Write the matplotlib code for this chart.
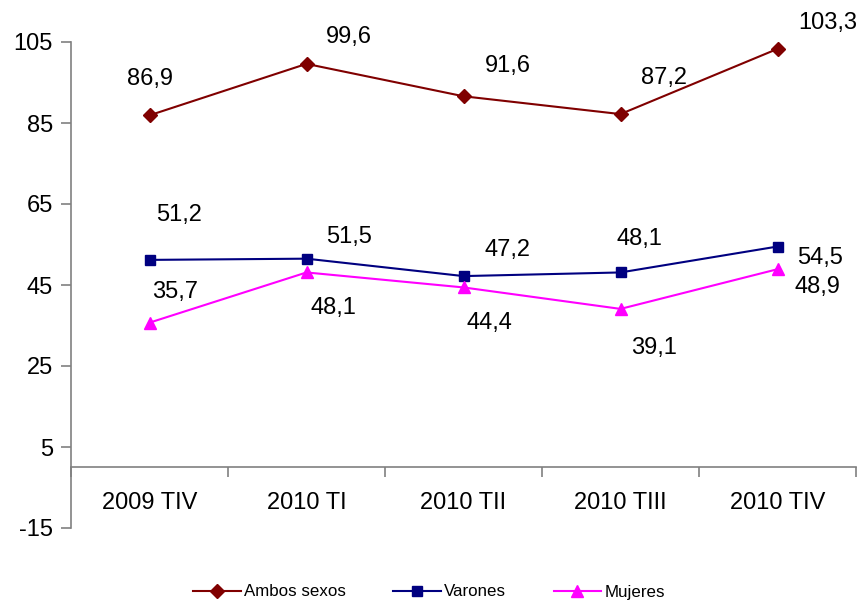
import matplotlib
matplotlib.use("Agg")
import matplotlib.pyplot as plt
from matplotlib.ticker import FixedLocator
import numpy as np

plt.rcParams['font.family'] = ['Liberation Sans', 'DejaVu Sans']

categories = ["2009 TIV", "2010 TI", "2010 TII", "2010 TIII", "2010 TIV"]
ambos = [86.9, 99.6, 91.6, 87.2, 103.3]
varones = [51.2, 51.5, 47.2, 48.1, 54.5]
mujeres = [35.7, 48.1, 44.4, 39.1, 48.9]
yticks = [-15, 5, 25, 45, 65, 85, 105]

fig = plt.figure(figsize=(8.58, 6.02), dpi=100)
ax = fig.add_axes([71/858, 1-528/602, 785/858, 486/602])

axcol = '#808080'
for s in ('top', 'right'):
    ax.spines[s].set_visible(False)
ax.spines['bottom'].set_position(('data', 0))

x = np.arange(len(categories))
ax.plot(x, ambos, color='#800000', marker='D', markersize=7, lw=1.5, label='Ambos sexos')
ax.plot(x, varones, color='#000080', marker='s', markersize=7, lw=1.5, label='Varones')
ax.plot(x, mujeres, color='#FF00FF', marker='^', markersize=9, lw=1.5, label='Mujeres')

# label offsets in pixels (dx, dy)
off_a = [(0, 36), (42, 27), (44, 30), (43, 36), (50, 26)]
off_v = [(30, 45), (43, 22), (44, 26), (19, 33), (43, -11)]
off_m = [(26, 31), (27, -36), (26, -36), (34, -39), (40, -18)]
for series, offs in ((ambos, off_a), (varones, off_v), (mujeres, off_m)):
    for i, v in enumerate(series):
        ax.annotate(f"{v:.1f}".replace('.', ','), (i, v), xytext=offs[i],
                    textcoords='offset pixels', ha='center', va='center', fontsize=17)

ax.set_xlim(-0.5, len(categories) - 0.5)
ax.set_ylim(-15, 105)
ax.set_yticks(yticks)
ax.set_yticklabels([str(t) for t in yticks], fontsize=17)
ax.set_xticks(x)
ax.set_xticklabels(categories, fontsize=17)
ax.xaxis.set_minor_locator(FixedLocator(np.arange(-0.5, len(categories), 1.0)))

ax.spines['bottom'].set_color(axcol)
ax.spines['left'].set_color(axcol)
ax.spines['bottom'].set_linewidth(1.2)
ax.spines['left'].set_linewidth(1.2)
ax.tick_params(axis='y', direction='out', length=7, color=axcol, width=1.2, pad=6)
ax.tick_params(axis='x', which='major', length=0, pad=18)
ax.tick_params(axis='x', which='minor', direction='out', length=7, color=axcol, width=1.2)

fig.legend(loc='center', bbox_to_anchor=(0.5, 1-592/602), ncol=3, frameon=False,
           fontsize=12.2, handlelength=2.8, columnspacing=2.8, handletextpad=0.2)

fig.savefig("out.png", dpi=100)
